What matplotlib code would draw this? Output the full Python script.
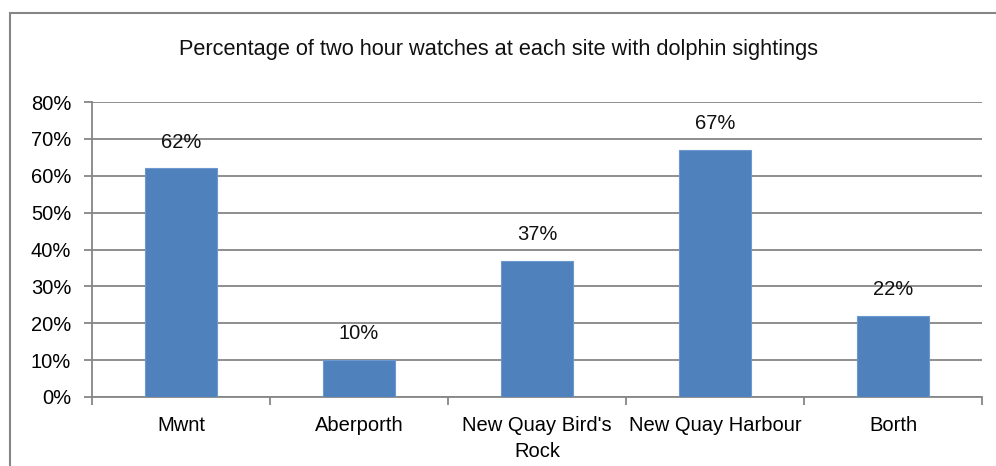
import matplotlib.pyplot as plt
from matplotlib.patches import Rectangle
from matplotlib.ticker import PercentFormatter
import numpy as np

# data
sites = ["Mwnt", "Aberporth", "New Quay Bird's\nRock", "New Quay Harbour", "Borth"]
pct = [62, 10, 37, 67, 22]

plt.rcParams["font.family"] = ["Liberation Sans", "DejaVu Sans"]
fs = 14.5

W, H = 996, 466
fig = plt.figure(figsize=(W / 100, H / 100), dpi=100, facecolor="white")

# chart frame (runs off right/bottom like the original crop)
fig.patches.append(Rectangle((9.5 / W, -0.1), 1.2, 1 - 12.5 / H + 0.1,
                             transform=fig.transFigure, fill=False,
                             edgecolor="#868686", linewidth=1.5))

ax = fig.add_axes([92 / W, 1 - 397 / H, (982 - 92) / W, (397 - 102) / H])

x = np.arange(len(sites))
ax.bar(x, pct, width=0.4, color="#4F81BD", edgecolor="#6C98CF",
       linewidth=0.8, zorder=3)

for xi, v in zip(x, pct):
    ax.annotate(f"{v}%", xy=(xi, v), xytext=(0, 12), textcoords="offset points",
                ha="center", va="bottom", fontsize=fs, color="#111111")

ax.set_xlim(-0.5, len(sites) - 0.5)
ax.set_ylim(0, 80)
ax.set_yticks(np.arange(0, 81, 10))
ax.yaxis.set_major_formatter(PercentFormatter(decimals=0))
ax.grid(axis="y", color="#868686", linewidth=1.3, zorder=0)
ax.set_axisbelow(True)

ax.set_xticks(x)
ax.set_xticklabels(sites, fontsize=fs, linespacing=1.45)
ax.set_xticks(np.arange(-0.5, len(sites)), minor=True)
ax.tick_params(axis="x", which="major", length=0, pad=14)
ax.tick_params(axis="x", which="minor", length=6, width=1.3, color="#868686",
               direction="out")
ax.tick_params(axis="y", length=6, width=1.3, color="#868686", pad=9,
               labelsize=fs)

for side in ["top", "right"]:
    ax.spines[side].set_visible(False)
for side in ["left", "bottom"]:
    ax.spines[side].set_color("#868686")
    ax.spines[side].set_linewidth(1.3)

fig.text(0.5, 1 - 49 / H, "Percentage of two hour watches at each site with dolphin sightings",
         ha="center", va="center", fontsize=15.7, color="#111111")

fig.savefig("out.png", dpi=100)
